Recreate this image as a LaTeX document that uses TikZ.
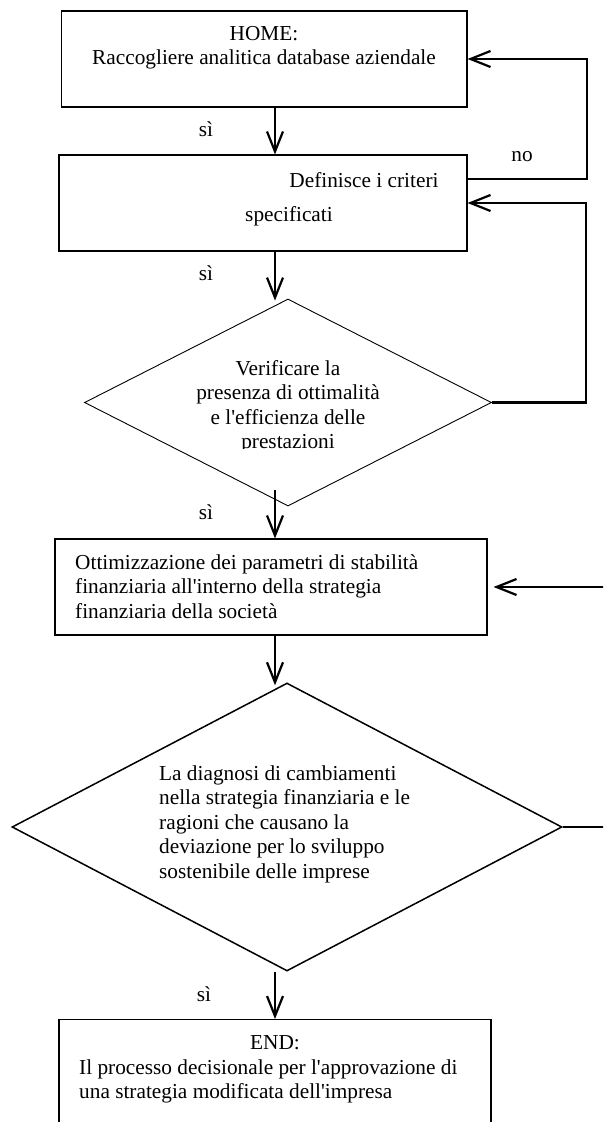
\documentclass[tikz,border=0pt]{standalone}
\usepackage{fontspec}
\setmainfont{Liberation Serif}
\usetikzlibrary{arrows.meta,shapes.geometric}
\newcommand\apo{\textquotesingle}
\begin{document}
\begin{tikzpicture}[x=1pt,y=-1pt,
  txt/.style={font=\fontsize{21.3}{24.5}\selectfont, inner sep=0pt},
  box/.style={draw, line width=1.1pt, minimum width=#1, minimum height=96pt, inner sep=0pt},
  dia/.style={draw, shape=diamond, inner sep=0pt},
  conn/.style={line width=2pt},
  arr/.style={line width=2.2pt, -{Straight Barb[length=20pt,width=16pt]}}
]
\clip (0,0) rectangle (603,1122);
\fill[white] (0,0) rectangle (603,1122);

% boxes and diamonds
\node[box=405.5pt] (b1) at (264.25,59) {};
\node[box=408pt] (b2) at (263,203) {};
\node[dia, line width=0.9pt, minimum width=407pt, minimum height=207pt] (d1) at (288,402.5) {};
\node[box=432pt] (b3) at (271,587) {};
\node[dia, line width=1.5pt, minimum width=550pt, minimum height=288pt] (d2) at (287,827) {};
\node[box=432pt, minimum height=200pt, anchor=north] (b4) at (275,1019) {};

% texts (multi-line nodes: base = baseline of last line)
\node[txt, anchor=base, align=center] (t1) at (264,64.5) {HOME:\\Raccogliere analitica database aziendale};
\node[txt, anchor=base] (t2a) at (364,187) {Definisce i criteri};
\node[txt, anchor=base] (t2b) at (289,221) {specificati};
\begin{scope}
\clip (80,350) rectangle (500,448);
\node[txt, anchor=base, align=center] (t3) at (288,448.5) {Verificare la\\presenza di ottimalità\\e l\apo efficienza delle\\prestazioni};
\end{scope}
\node[txt, anchor=base west, align=left] (t4) at (75,618) {Ottimizzazione dei parametri di stabilità\\finanziaria all\apo interno della strategia\\finanziaria della società};
\node[txt, anchor=base west, align=left] (t5) at (159,878) {La diagnosi di cambiamenti\\nella strategia finanziaria e le\\ragioni che causano la\\deviazione per lo sviluppo\\sostenibile delle imprese};
\node[txt, anchor=base] (t6a) at (275,1049) {END:};
\node[txt, anchor=base west, align=left] (t6b) at (79,1098.5) {Il processo decisionale per l\apo approvazione di\\una strategia modificata dell\apo impresa};

\node[txt, anchor=base] (s1) at (206,136) {sì};
\node[txt, anchor=base] (s2) at (206,280) {sì};
\node[txt, anchor=base] (s3) at (206,519) {sì};
\node[txt, anchor=base] (s4) at (204,1001) {sì};
\node[txt, anchor=base] (no) at (522,161) {no};

% connectors
\coordinate (ax) at (275,0);
\coordinate (rx1) at (587,0);
\coordinate (rx2) at (586,0);
\coordinate (rx3) at (640,0);
\draw[arr] (b1.south -| ax) -- (b2.north -| ax);
\draw[arr] (b2.south -| ax) -- ([yshift=-2pt]d1.north -| ax);
\draw[arr] ([yshift=16pt]d1.south -| ax) -- (b3.north -| ax);
\draw[arr] (b3.south -| ax) -- ([yshift=-3pt]d2.north -| ax);
\draw[arr] (d2.south -| ax) -- (b4.north -| ax);
\draw[arr] ([yshift=24pt]b2.east) -| (rx1 |- b1.east) -- (b1.east);
\draw[arr] (d1.east) -- (rx2 |- d1.east) |- (b2.east);
\draw[arr] (d2.east) -- (rx3 |- d2.east) |- ([xshift=6pt]b3.east);
\end{tikzpicture}
\end{document}
